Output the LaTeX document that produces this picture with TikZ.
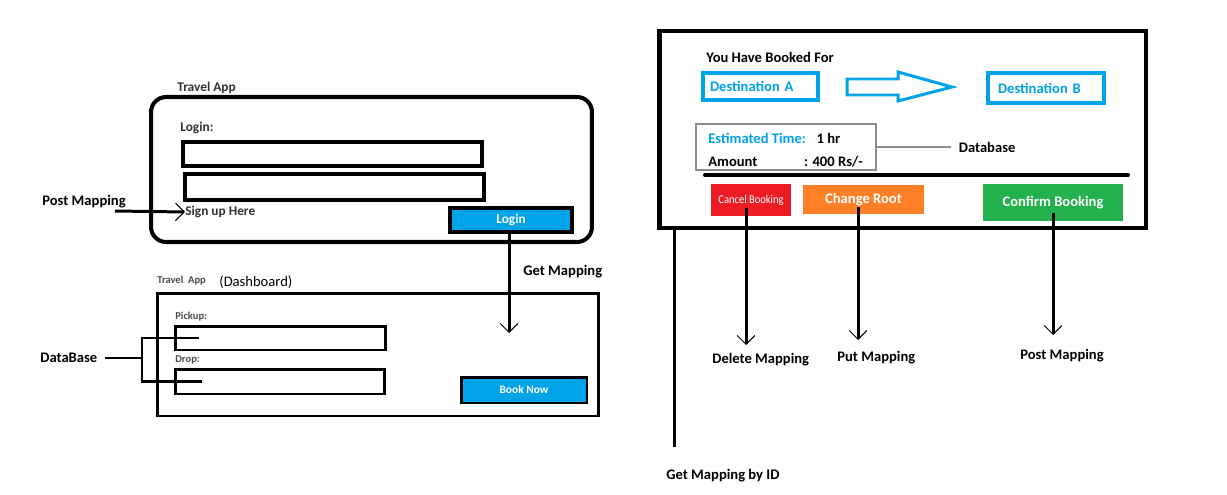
\documentclass[tikz,border=0pt]{standalone}
\usepackage{fontspec}
\setmainfont{Carlito}
\usetikzlibrary{positioning,arrows.meta}
\definecolor{appblue}{HTML}{00A2E8}
\definecolor{cancelred}{HTML}{ED1C24}
\definecolor{rootorange}{HTML}{FF7F27}
\definecolor{confirmgreen}{HTML}{22B14C}

\begin{document}
\begin{tikzpicture}
    [ x = .02cm, y = -.02cm
    , lbltext/.style =
      { inner sep=0pt, font=\bfseries\fontsize{8.3}{10}\selectfont }
    , smalltext/.style =
      { inner sep=0pt, font=\bfseries\fontsize{7.6}{9}\selectfont, text=black!80 }
    , tinytext/.style =
      { inner sep=0pt, font=\bfseries\fontsize{6}{7}\selectfont, text=black!70 }
    , field/.style =
      { draw, line width=2pt, inner sep=0pt }
    , button/.style =
      { draw, line width=2pt, fill=appblue, text=white, inner sep=0pt }
    , action/.style =
      { text=white, inner sep=0pt, font=\bfseries\fontsize{8.3}{10}\selectfont }
    , dest/.style =
      { draw=appblue, line width=2.2pt, text=appblue, inner ysep=0pt, align=left,
        font=\bfseries\fontsize{8.3}{10}\selectfont }
    , call/.style =
      { line width=1.7pt, -{Straight Barb[length=5pt,width=10pt,line width=.6pt]} }
    , wire/.style =
      { line width=1.7pt }
    , note/.style =
      { draw=black!45, line width=.6pt }
    ]
    \useasboundingbox [fill=white] (0,0) rectangle (1227,494);

    % login screen
    \node [smalltext, anchor=west] (apptitle) at (177,88) {Travel App};
    \node [draw, line width=2.3pt, rounded corners=.3cm, minimum width=8.82cm,
           minimum height=2.9cm] (login) at (371.5,169.5) {};
    \node [smalltext, anchor=west] (loginlbl) at (180,128) {Login:};
    \node [field, minimum width=5.98cm, minimum height=.48cm] (user) at (332.5,154) {};
    \node [field, minimum width=5.98cm, minimum height=.52cm] (pass) at (334.5,187) {};
    \node [smalltext, anchor=west] (signup) at (185,212) {Sign up Here};
    \node [button, minimum width=2.44cm, minimum height=.48cm,
           font=\bfseries\fontsize{7.6}{9}\selectfont] (loginbtn) at (511,220) {Login};
    \node [lbltext, anchor=west] (postA) at (42,202) {Post Mapping};
    \coordinate (poststart) at (115,211);
    \node [lbltext, anchor=west] (getA) at (523,272) {Get Mapping};
    \coordinate (gettip) at (509,333);

    % dashboard
    \node [tinytext, anchor=west] (dashtitle) at (157,281) {Travel\ \ App};
    \node [anchor=west, inner sep=0pt, font=\fontsize{8.3}{10}\selectfont]
          (dashlbl) at (219,282) {(Dashboard)};
    \node [draw, line width=1.7pt, minimum width=8.84cm, minimum height=2.46cm]
          (dash) at (378,354.5) {};
    \node [tinytext, anchor=west] (pickuplbl) at (175,317) {Pickup:};
    \node [field, line width=1.7pt, minimum width=4.22cm, minimum height=.48cm]
          (pickup) at (280.5,338) {};
    \node [tinytext, anchor=west] (droplbl) at (175,360) {Drop:};
    \node [field, line width=1.7pt, minimum width=4.2cm, minimum height=.5cm]
          (drop) at (280,381.5) {};
    \node [button, line width=1.7pt, minimum width=2.52cm, minimum height=.52cm,
           font=\bfseries\fontsize{6.5}{8}\selectfont] (booknow) at (524,390) {Book Now};
    \node [lbltext, anchor=west] (dbA) at (40,358) {DataBase};
    \coordinate (fork) at (142,358);

    % booking screen
    \node [draw, line width=2.8pt, minimum width=9.74cm, minimum height=3.94cm]
          (booking) at (902.5,129.5) {};
    \node [lbltext, anchor=west] (booked) at (706,57) {You Have Booked For};
    \node [dest, inner xsep=.14cm, text width=2.02cm, minimum height=.54cm]
          (destA) at (760.5,86.5) {Destination A};
    \node [dest, inner xsep=.2cm, text width=1.92cm, minimum height=.6cm]
          (destB) at (1046,88) {Destination B};
    \draw [appblue, line width=1.7pt]
      (847,79) -- (898,79) -- (898,72) -- (952,87) -- (898,101) -- (898,95) -- (847,95) -- cycle;
    \node [note, minimum width=3.6cm, minimum height=.92cm] (info) at (786,147) {};
    \node [lbltext, anchor=west, text=appblue] (esttime) at (708,138) {Estimated Time:};
    \node [lbltext] (hours) [right=.2cm of esttime] {1 hr};
    \node [lbltext, anchor=west] (amount) at (708,162) {Amount};
    \node [lbltext] (price) [right=.92cm of amount] {: 400 Rs/-};
    \node [lbltext] (dbB) [right=1.64cm of info] {Database};
    \draw [line width=2.3pt, line cap=round] (705,175) -- (1128,175);
    \node [fill=cancelred, text=white, inner sep=0pt, minimum width=1.6cm, minimum height=.64cm,
           font=\fontsize{6.8}{8}\selectfont] (cancel) at (751,200)
          {\scalebox{.88}[1]{Cancel Booking}};
    \node [action, fill=rootorange, minimum width=2.42cm, minimum height=.58cm]
          (change) at (863.5,199.5) {Change Root};
    \node [action, fill=confirmgreen, minimum width=2.8cm, minimum height=.74cm]
          (confirm) at (1053,202.5) {Confirm Booking};
    \coordinate (getidend) at (674,447);
    \coordinate (deltip) at (746,345);
    \coordinate (puttip) at (858,340);
    \coordinate (posttip) at (1053,335);
    \node [lbltext, anchor=west] (getid) at (666,476) {Get Mapping by ID};
    \node [lbltext, anchor=west] (delmap) at (712,360) {Delete Mapping};
    \node [lbltext, anchor=west] (putmap) at (837,358) {Put Mapping};
    \node [lbltext, anchor=west] (postB) at (1020,356) {Post Mapping};

    \draw [call] (poststart) -- (signup.west);
    \draw [call] ([yshift=2pt]gettip |- loginbtn.south) -- (gettip);
    \draw [wire] ([xshift=4pt]dbA.east) -- (fork);
    \draw [wire] (fork) |- ([xshift=.5cm]pickup.west);
    \draw [wire] (fork) |- ([xshift=.56cm]drop.west);
    \draw [note] (info.east) -- ([xshift=-4pt]info.east -| dbB.west);
    \draw [line width=1.7pt] (getidend |- booking.south) -- (getidend);
    \draw [call] ([yshift=5pt]deltip |- cancel.south) -- (deltip);
    \draw [call] ([yshift=4pt]puttip |- change.south) -- (puttip);
    \draw [call] ([yshift=5pt]posttip |- confirm.south) -- (posttip);
  \end{tikzpicture}
\end{document}
